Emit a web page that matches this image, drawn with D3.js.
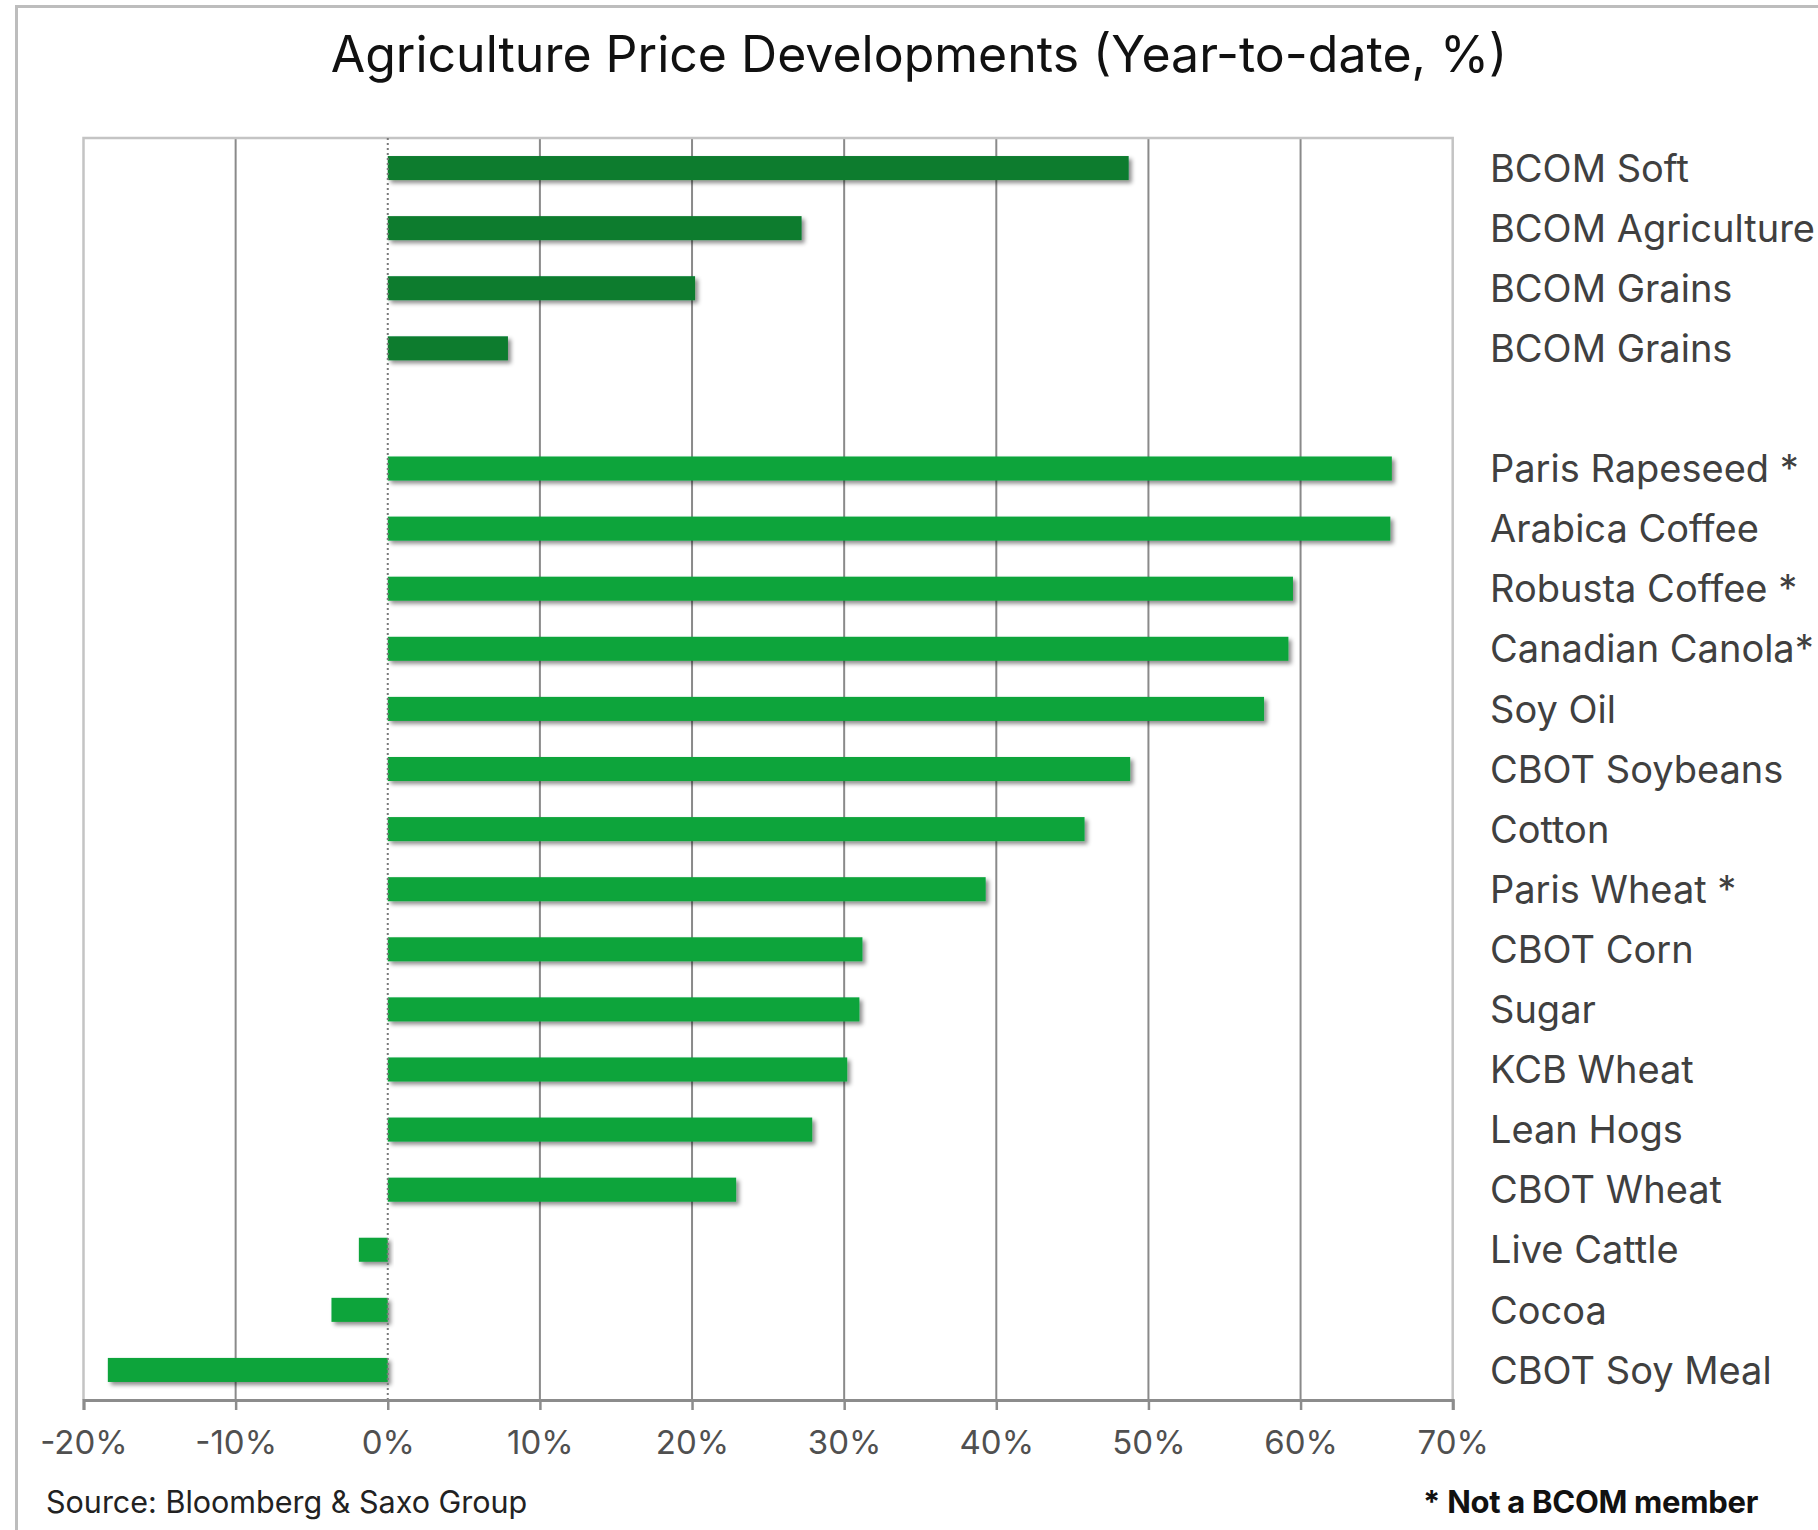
<!DOCTYPE html>
<html><head><meta charset="utf-8">
<script src="https://cdn.jsdelivr.net/npm/d3@7"></script>
<style>
html,body{margin:0;padding:0;background:#fff;}
svg{display:block;font-family:Inter,"Noto Sans",sans-serif;}
</style></head>
<body>
<script>
const categories = ["BCOM Soft","BCOM Agriculture","BCOM Grains","BCOM Grains","",
  "Paris Rapeseed *","Arabica Coffee","Robusta Coffee *","Canadian Canola*","Soy Oil",
  "CBOT Soybeans","Cotton","Paris Wheat *","CBOT Corn","Sugar","KCB Wheat","Lean Hogs",
  "CBOT Wheat","Live Cattle","Cocoa","CBOT Soy Meal"];
const values = [48.7,27.2,20.2,7.9,null,
  66.0,65.9,59.5,59.2,57.6,
  48.8,45.8,39.3,31.2,31.0,30.2,27.9,
  22.9,-1.9,-3.7,-18.4];
const groups = ["index","index","index","index",null,
  "member","member","member","member","member","member","member","member","member",
  "member","member","member","member","member","member","member"];
const xTicks = [-20,-10,0,10,20,30,40,50,60,70];
const titleText = "Agriculture Price Developments (Year-to-date, %)";
const sourceText = "Source: Bloomberg & Saxo Group";
const noteText = "* Not a BCOM member";
const colors = {index:"#087b2e", member:"#0aa43b"};

const W = 1818, H = 1530;
const m = {left:83.5, right:W-1452.7, top:138, bottom:H-1400};
const svg = d3.select("body").append("svg").attr("width",W).attr("height",H);

const defs = svg.append("defs");
const f = defs.append("filter").attr("id","sh").attr("x","-10%").attr("y","-40%").attr("width","130%").attr("height","200%");
f.append("feDropShadow").attr("dx",3).attr("dy",3).attr("stdDeviation",2)
  .attr("flood-color","#000").attr("flood-opacity",0.45);

// outer frame (top and left only visible)
svg.append("line").attr("x1",16).attr("x2",W).attr("y1",6.5).attr("y2",6.5).attr("stroke","#bdbdbd").attr("stroke-width",3);
svg.append("line").attr("x1",16.5).attr("x2",16.5).attr("y1",5).attr("y2",H).attr("stroke","#bdbdbd").attr("stroke-width",3);

const x = d3.scaleLinear().domain([-20,70]).range([m.left, W-m.right]);
const y = d3.scaleBand().domain(d3.range(categories.length)).range([m.top, H-m.bottom]).paddingInner(0.6).paddingOuter(0.3);

// title
svg.append("text").attr("x",919).attr("y",72).attr("text-anchor","middle")
  .attr("font-size",50).attr("fill","#111").text(titleText);

// gridlines
svg.append("g").selectAll("line").data(xTicks.filter(t=>t>-20 && t<70 && t!==0)).join("line")
  .attr("x1",d=>x(d)).attr("x2",d=>x(d)).attr("y1",m.top).attr("y2",H-m.bottom)
  .attr("stroke","#8a8a8a").attr("stroke-width",2);

// plot border
svg.append("path").attr("d",`M${x(-20)},${H-m.bottom}V${m.top}H${x(70)}V${H-m.bottom}`)
  .attr("fill","none").attr("stroke","#c4c4c4").attr("stroke-width",2.5);

// bars
const data = categories.map((c,i)=>({c,i,v:values[i],g:groups[i]})).filter(d=>d.v!==null);
svg.append("g").selectAll("rect").data(data).join("rect")
  .attr("x",d=>x(Math.min(0,d.v))).attr("width",d=>Math.abs(x(d.v)-x(0)))
  .attr("y",d=>y(d.i)).attr("height",y.bandwidth())
  .attr("fill",d=>colors[d.g]).attr("filter","url(#sh)");

// zero dotted line
svg.append("line").attr("x1",x(0)).attr("x2",x(0)).attr("y1",m.top).attr("y2",H-m.bottom)
  .attr("stroke","#7a7a7a").attr("stroke-width",2).attr("stroke-dasharray","2,3");

// x axis
const ax = svg.append("g").attr("transform",`translate(0,${H-m.bottom})`)
  .call(d3.axisBottom(x).tickValues(xTicks).tickFormat(d=>d+"%").tickSize(10).tickPadding(21));
ax.select(".domain").attr("stroke","#8c8c8c").attr("stroke-width",3);
ax.selectAll(".tick line").attr("stroke","#8c8c8c").attr("stroke-width",2.5);
ax.selectAll(".tick text").attr("font-size",33).attr("fill","#505050").attr("font-family","Inter,sans-serif");

// category labels
svg.append("g").selectAll("text").data(categories.map((c,i)=>({c,i})).filter(d=>d.c!=="")).join("text")
  .attr("x",1490).attr("y",d=>y(d.i)+y.bandwidth()/2).attr("dy","0.36em")
  .attr("font-size",38).attr("fill","#404040").text(d=>d.c);

// footer
svg.append("text").attr("x",46).attr("y",1513).attr("font-size",30.5).attr("fill","#222").text(sourceText);
svg.append("text").attr("x",1758).attr("y",1513).attr("text-anchor","end").attr("font-size",31)
  .attr("font-weight",700).attr("fill","#111").attr("letter-spacing",-0.3).text(noteText);
</script>
</body></html>
